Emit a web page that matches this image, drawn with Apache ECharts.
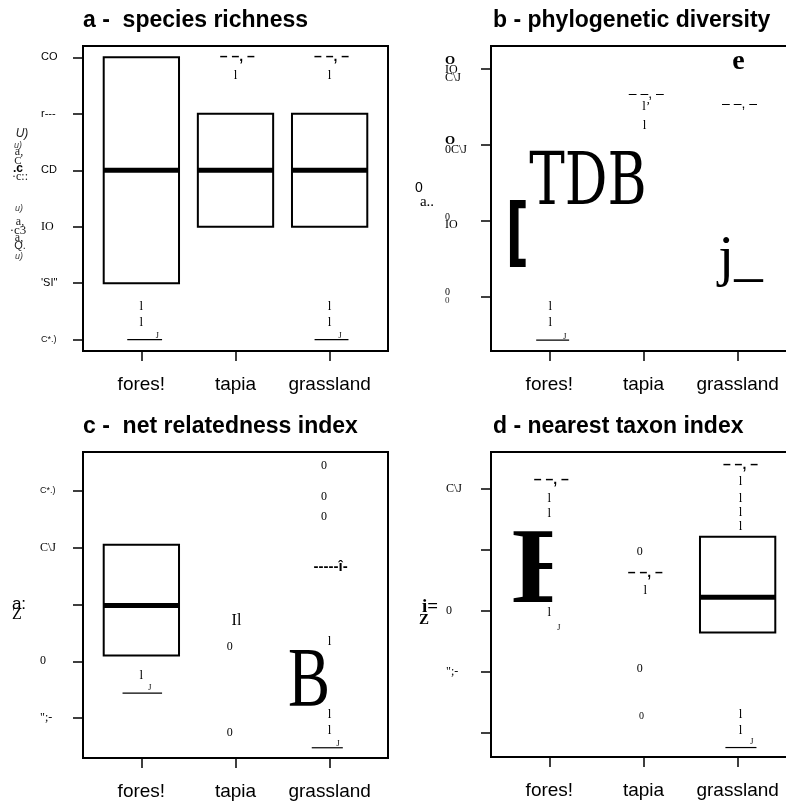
<!DOCTYPE html>
<html><head><meta charset="utf-8">
<script src="https://cdn.jsdelivr.net/npm/echarts@6/dist/echarts.min.js"></script>
<style>html,body{margin:0;padding:0;background:#fff}#c{width:786px;height:802px}</style>
</head><body><div id="c"></div>
<script>
// ---------------- data ----------------
const categories = ['fores!', 'tapia', 'grassland'];
const categoryPositions = [1, 2, 3];
const titles = ['a -  species richness', 'b - phylogenetic diversity', 'c -  net relatedness index', 'd - nearest taxon index'];

// panel a
const aTicks = [0, 1, 2, 3, 4, 5];
const aTickLabels = ['C*.)', "'SI\"", 'IO', 'CD', 'r---', 'CO'];
const aBoxes = [[1, 1, 3, 5], [2, 2, 3, 4], [3, 2, 3, 4]]; // [category, q1, median, q3]
const aCaps = [[2.02, 5, '– –, –'], [3.02, 5, '– –, –']];
const aDashes = [[2.0, 4.67, 'l'], [3.0, 4.67, 'l'], [1.0, 0.59, 'l'], [1.0, 0.31, 'l'], [3.0, 0.59, 'l'], [3.0, 0.31, 'l']];
const aStaples = [[0.85, 1.22, 0], [2.84, 3.2, 0]];
const aHooks = [[1.17, 0.06, 'J'], [3.11, 0.06, 'J']];

// panel b
const bTicks = [0, 1, 2, 3];
const bTickLabels = ['0\n0', '0\nIO', 'O\n0C\\J', 'O\nIO\nC\\J'];
const bCaps = [[2.03, 2.67, '– –, –'], [3.02, 2.535, '– –, –']];
const bDashes = [[2.03, 2.51, 'l’'], [2.01, 2.26, 'l'], [1.01, -0.13, 'l'], [1.01, -0.34, 'l']];
const bStaples = [[0.86, 1.21, -0.566]];
const bHooks = [[1.165, -0.52, 'J']];
const bBlockGlyphs = [[1.41, 1.47, 'TDB']];
const bBracketGlyphs = [[0.66, 0.78, '[']];
const bHookGlyphs = [[3.03, 0.49, 'j_']];
const bLetterGlyphs = [[3.01, 3.09, 'e']];

// panel c
const cTicks = [0, 1, 2, 3, 4];
const cTickLabels = ['";-', '0', '', 'C\\J', 'C*.)'];
const cBoxes = [[1, 1.1, 1.98, 3.05]];
const cDashes = [[1.0, 0.75, 'l'], [3.0, 1.34, 'l'], [3.0, 0.06, 'l'], [3.0, -0.22, 'l']];
const cStaples = [[0.80, 1.22, 0.44], [2.81, 3.14, -0.52]];
const cHooks = [[1.09, 0.54, 'J'], [3.09, -0.45, 'J']];
const cOutliers = [[1.94, 1.26, '0'], [1.94, -0.25, '0'], [2.94, 4.44, '0'], [2.94, 3.89, '0'], [2.94, 3.54, '0']];
const cPairGlyphs = [[2.01, 1.72, 'Il']];
const cCapGlyphs = [[3.01, 2.66, '-----î-']];
const cBigGlyphs = [[2.78, 0.61, 'B']];

// panel d
const dTicks = [0, 1, 2, 3, 4];
const dTickLabels = ['', '";-', '0', '', 'C\\J'];
const dBoxes = [[3, 1.65, 2.23, 3.22]];
const dCaps = [[1.02, 4.15, '– –, –'], [2.02, 2.63, '– –, –'], [3.03, 4.40, '– –, –']];
const dDashes = [[1.0, 3.84, 'l'], [1.0, 3.6, 'l'], [1.0, 1.97, 'l'], [2.02, 2.34, 'l'], [3.03, 4.13, 'l'], [3.03, 3.85, 'l'], [3.03, 3.61, 'l'], [3.03, 3.39, 'l'], [3.03, 0.31, 'l'], [3.03, 0.05, 'l']];
const dStaples = [[2.87, 3.2, -0.235]];
const dHooks = [[1.1, 1.73, 'J'], [3.15, -0.14, 'J']];
const dOutliers = [[1.96, 2.98, '0'], [1.96, 1.06, '0']];
const dFaintOutliers = [[1.98, 0.28, '0']];
const dBigGlyphs = [[0.6, 2.61, 'E', 1.03]]; // [x, y, text, clip-at x]

// ---------------- layout & helpers ----------------
const SANS = 'Liberation Sans', SERIF = 'Liberation Serif';
const grids = [
  { left: 83, top: 46, width: 305, height: 305 },
  { left: 491, top: 46, width: 305, height: 305 },
  { left: 83, top: 452, width: 305, height: 306 },
  { left: 491, top: 452, width: 305, height: 305 }
];
const yRanges = [[-0.2, 5.2], [-0.71, 3.3], [-0.7, 4.68], [-0.39, 4.61]];
const tickSets = [aTicks, bTicks, cTicks, dTicks];

function glyphSeries(g, rows, font, extra) {
  return {
    type: 'custom', xAxisIndex: g, yAxisIndex: g, silent: true, clip: false, z: 5,
    data: rows.map(r => [r[0], r[1]]),
    encode: { x: 0, y: 1 },
    renderItem: (params, api) => {
      const row = rows[params.dataIndex];
      const p = api.coord([row[0], row[1]]);
      const el = {
        type: 'text', x: p[0], y: p[1],
        style: { text: row[2], font: font, fill: '#000', align: 'center', verticalAlign: 'middle', textAlign: 'center', textVerticalAlign: 'middle' }
      };
      return Object.assign(el, extra || {});
    }
  };
}
function boxSeries(g, rows) {
  return {
    type: 'custom', xAxisIndex: g, yAxisIndex: g, silent: true, clip: false, z: 4,
    data: rows.map(r => [r[0], r[1], r[2], r[3]]),
    encode: { x: 0, y: [1, 2, 3] },
    renderItem: (params, api) => {
      const c = api.value(0);
      const tl = api.coord([c - 0.4, api.value(3)]);
      const br = api.coord([c + 0.4, api.value(1)]);
      const ml = api.coord([c - 0.4, api.value(2)]);
      const mr = api.coord([c + 0.4, api.value(2)]);
      return { type: 'group', children: [
        { type: 'rect', shape: { x: tl[0], y: tl[1], width: br[0] - tl[0], height: br[1] - tl[1] }, style: { fill: '#fff', stroke: '#000', lineWidth: 2 } },
        { type: 'line', shape: { x1: ml[0], y1: ml[1], x2: mr[0], y2: mr[1] }, style: { stroke: '#000', lineWidth: 5 } }
      ] };
    }
  };
}
function stapleSeries(g, rows) {
  return {
    type: 'custom', xAxisIndex: g, yAxisIndex: g, silent: true, clip: false, z: 4,
    data: rows.map(r => [r[0], r[1], r[2]]),
    encode: { x: [0, 1], y: 2 },
    renderItem: (params, api) => {
      const a = api.coord([api.value(0), api.value(2)]);
      const b = api.coord([api.value(1), api.value(2)]);
      return { type: 'line', shape: { x1: a[0], y1: a[1], x2: b[0], y2: b[1] }, style: { stroke: '#000', lineWidth: 1.2 } };
    }
  };
}
function clippedGlyphSeries(g, rows, font) {
  return {
    type: 'custom', xAxisIndex: g, yAxisIndex: g, silent: true, clip: false, z: 5,
    data: rows.map(r => [r[0], r[1], r[3]]),
    encode: { x: 0, y: 1 },
    renderItem: (params, api) => {
      const row = rows[params.dataIndex];
      const p = api.coord([row[0], row[1]]);
      const q = api.coord([row[3], row[1]]);
      return {
        type: 'text', x: p[0], y: p[1],
        style: { text: row[2], font: font, fill: '#000', align: 'left', verticalAlign: 'middle', textAlign: 'left', textVerticalAlign: 'middle' },
        clipPath: { type: 'rect', shape: { x: -20, y: -100, width: q[0] - p[0] + 20, height: 200 } }
      };
    }
  };
}

const labelStylesA = ['ss', 's', 'r', 's', 's', 's'];
const labelStylesB = [['rs', 'rxs'], ['rs', 'r'], ['rb', 'r'], ['rb', 'r', 'r']];
const labelStylesC = ['r', 'r', 'r', 'r', 'ss'];
const labelStylesD = ['r', 'r', 'r', 'r', 'r'];
const rich = {
  s: { fontFamily: SANS, fontSize: 11, color: '#000' },
  ss: { fontFamily: SANS, fontSize: 9, color: '#111' },
  r: { fontFamily: SERIF, fontSize: 12, color: '#000', lineHeight: 8 },
  rb: { fontFamily: SERIF, fontSize: 13, fontWeight: 'bold', color: '#000', lineHeight: 10 },
  rs: { fontFamily: SERIF, fontSize: 10, color: '#000', lineHeight: 8 },
  rxs: { fontFamily: SERIF, fontSize: 9, color: '#333', lineHeight: 10 }
};
const yFormatters = [
  (v, i) => { const k = aTicks.indexOf(Math.round(v)); return '{' + labelStylesA[k] + '|' + aTickLabels[k] + '}'; },
  (v, i) => { const k = bTicks.indexOf(Math.round(v)); return bTickLabels[k].split('\n').map((t, j) => '{' + labelStylesB[k][j] + '|' + t + '}').join('\n'); },
  (v, i) => { const k = cTicks.indexOf(Math.round(v)); return cTickLabels[k] ? '{' + labelStylesC[k] + '|' + cTickLabels[k] + '}' : ''; },
  (v, i) => { const k = dTicks.indexOf(Math.round(v)); return dTickLabels[k] ? '{' + labelStylesD[k] + '|' + dTickLabels[k] + '}' : ''; }
];
const yMargins = [42, 46, 43, 45];

function gtext(x, y, text, font, fill) {
  return { type: 'text', x: x, y: y, style: { text: text, font: font, fill: fill || '#000', textAlign: 'center', textVerticalAlign: 'middle', align: 'center', verticalAlign: 'middle' } };
}

const tickLine = { color: '#000', width: 1.5 };
const option = {
  backgroundColor: '#fff',
  animation: false,
  title: titles.map((t, i) => ({
    text: t, padding: 0,
    left: [83, 493, 83, 493][i], top: [9, 9, 415, 415][i],
    textStyle: { fontFamily: SANS, fontWeight: 'bold', fontSize: 23, color: '#000' }
  })),
  grid: grids.map(g => Object.assign({ show: true, borderColor: '#000', borderWidth: 2, backgroundColor: 'transparent', containLabel: false, outerBoundsMode: 'none' }, g)),
  xAxis: grids.map((g, i) => ({
    gridIndex: i, type: 'value', min: 0.38, max: 3.62, position: 'bottom',
    splitLine: { show: false }, axisLine: { show: false, onZero: false },
    axisTick: { show: true, inside: false, length: 10, lineStyle: tickLine, customValues: categoryPositions },
    axisLabel: { customValues: categoryPositions, formatter: v => categories[categoryPositions.indexOf(Math.round(v))], margin: 24, fontFamily: SANS, fontSize: 19, color: '#000' }
  })),
  yAxis: grids.map((g, i) => ({
    gridIndex: i, type: 'value', min: yRanges[i][0], max: yRanges[i][1], position: 'left',
    splitLine: { show: false }, axisLine: { show: false, onZero: false },
    axisTick: { show: true, inside: false, length: 10, lineStyle: tickLine, customValues: tickSets[i] },
    axisLabel: { customValues: tickSets[i], formatter: yFormatters[i], align: 'left', margin: yMargins[i], rich: rich }
  })),
  graphic: [
    // panel a y-axis title glyphs
    gtext(22, 134, 'U)', 'italic 12px ' + SANS, '#222'),
    gtext(18, 145, 'u)', 'italic 9px ' + SANS, '#444'),
    gtext(19, 152, 'a,', '12px ' + SERIF, '#222'),
    gtext(18, 161, 'C', '11px ' + SERIF, '#222'),
    gtext(18, 169, '.c', 'bold 12px ' + SANS),
    gtext(20, 177, '·c::', '12px ' + SERIF, '#222'),
    gtext(19, 208, 'u)', 'italic 9px ' + SANS, '#444'),
    gtext(20, 222, 'a,', '12px ' + SERIF, '#222'),
    gtext(18, 231, '·c3', '13px ' + SERIF, '#222'),
    gtext(19, 238, 'a,', '12px ' + SERIF, '#222'),
    gtext(20, 246, 'Q.', '11px ' + SANS, '#222'),
    gtext(19, 256, 'u)', 'italic 9px ' + SANS, '#444'),
    // panel b
    gtext(419, 188, '0', '14px ' + SANS),
    gtext(427, 202, 'a..', '15px ' + SERIF),
    // panel c
    gtext(19, 604, 'a:', '17px ' + SANS),
    gtext(17, 615, 'Z', '16px ' + SERIF),
    // panel d
    gtext(430, 607, 'i=', 'bold 19px ' + SERIF),
    gtext(424, 620, 'Z', 'bold 15px ' + SERIF)
  ],
  series: [
    // a
    boxSeries(0, aBoxes),
    glyphSeries(0, aCaps, 'bold 14px ' + SANS),
    glyphSeries(0, aDashes, '13px ' + SERIF),
    stapleSeries(0, aStaples),
    glyphSeries(0, aHooks, '8px ' + SERIF),
    // b
    glyphSeries(1, bCaps, '14px ' + SANS),
    glyphSeries(1, bDashes, '13px ' + SERIF),
    stapleSeries(1, bStaples),
    glyphSeries(1, bHooks, '8px ' + SERIF),
    glyphSeries(1, bBlockGlyphs, '72px "DejaVu Serif"', { scaleX: 0.74 }),
    glyphSeries(1, bBracketGlyphs, 'bold 74px "DejaVu Sans"', { scaleX: 0.7 }),
    glyphSeries(1, bHookGlyphs, '57px ' + SERIF),
    glyphSeries(1, bLetterGlyphs, 'bold 28px ' + SERIF),
    // c
    boxSeries(2, cBoxes),
    glyphSeries(2, cDashes, '13px ' + SERIF),
    stapleSeries(2, cStaples),
    glyphSeries(2, cHooks, '8px ' + SERIF),
    glyphSeries(2, cOutliers, '12px ' + SERIF),
    glyphSeries(2, cPairGlyphs, '16px ' + SERIF),
    glyphSeries(2, cCapGlyphs, 'bold 15px ' + SANS),
    glyphSeries(2, cBigGlyphs, '84px ' + SERIF, { scaleX: 0.75 }),
    // d
    boxSeries(3, dBoxes),
    glyphSeries(3, dCaps, 'bold 14px ' + SANS),
    glyphSeries(3, dDashes, '13px ' + SERIF),
    stapleSeries(3, dStaples),
    glyphSeries(3, dHooks, '8px ' + SERIF),
    glyphSeries(3, dOutliers, '12px ' + SERIF),
    glyphSeries(3, dFaintOutliers, '10px ' + SERIF),
    clippedGlyphSeries(3, dBigGlyphs, 'bold 108px ' + SERIF)
  ]
};
const chart = echarts.init(document.getElementById('c'), null, { renderer: 'canvas' });
chart.setOption(option);
</script>
</body></html>
